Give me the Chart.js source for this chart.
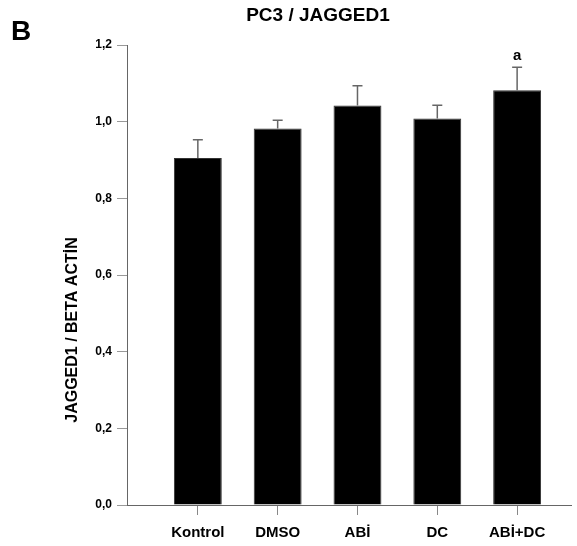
<!DOCTYPE html>
<html>
<head>
<meta charset="utf-8">
<script src="https://cdn.jsdelivr.net/npm/chart.js@4/dist/chart.umd.min.js"></script>
<style>
  html, body { margin: 0; padding: 0; background: #fff; }
  #wrap { width: 577px; height: 546px; position: relative; }
</style>
</head>
<body>
<div id="wrap"><canvas id="myChart"></canvas></div>
<script>
const groups = ["Kontrol", "DMSO", "ABİ", "DC", "ABİ+DC"];
const jaggedValues = [0.905, 0.982, 1.042, 1.008, 1.082];
const jaggedErrors = [0.048, 0.022, 0.052, 0.035, 0.060];
const significance = ["", "", "", "", "a"];
const yTicks = [0, 0.2, 0.4, 0.6, 0.8, 1.0, 1.2];

const ctx = document.getElementById('myChart');
const fontName = "'Liberation Sans', Arial, sans-serif";

// error bars (upper half only) plus the letter above them
const errorBars = {
  id: 'errorBars',
  afterDatasetsDraw(chart) {
    const c = chart.ctx;
    const yScale = chart.scales.y;
    const meta = chart.getDatasetMeta(0);
    c.save();
    meta.data.forEach((bar, i) => {
      const top = yScale.getPixelForValue(jaggedValues[i] + jaggedErrors[i]);
      c.strokeStyle = '#666';
      c.lineWidth = 1.5;
      c.beginPath();
      c.moveTo(bar.x, bar.y);
      c.lineTo(bar.x, top);
      c.moveTo(bar.x - 5, top);
      c.lineTo(bar.x + 5, top);
      c.stroke();
      if (significance[i]) {
        c.fillStyle = '#000';
        c.font = 'bold 15px ' + fontName;
        c.textAlign = 'center';
        c.textBaseline = 'alphabetic';
        c.fillText(significance[i], bar.x, top - 7);
      }
    });
    c.restore();
  }
};

// panel letter, heading and the rotated y title
const labels = {
  id: 'labels',
  afterDraw(chart) {
    const c = chart.ctx;
    c.save();
    c.fillStyle = '#000';
    c.font = 'bold 28px ' + fontName;
    c.textAlign = 'left';
    c.textBaseline = 'alphabetic';
    c.fillText('B', 11, 40);

    c.font = 'bold 19px ' + fontName;
    c.textAlign = 'center';
    c.textBaseline = 'middle';
    c.fillText('PC3 / JAGGED1', 318, 16);

    c.translate(73, 330);
    c.rotate(-Math.PI / 2);
    c.font = 'bold 16px ' + fontName;
    c.fillText('JAGGED1 / BETA ACTİN', 0, 0);
    c.restore();
  }
};

new Chart(ctx, {
  type: 'bar',
  data: {
    datasets: [{
      data: jaggedValues.map((v, i) => ({ x: i, y: v })),
      backgroundColor: '#000',
      borderColor: '#333',
      borderWidth: 1,
      categoryPercentage: 1,
      barPercentage: 0.6
    }]
  },
  plugins: [errorBars, labels],
  options: {
    responsive: true,
    maintainAspectRatio: false,
    animation: false,
    layout: { padding: { top: 45, left: 0, right: 6, bottom: 0 } },
    plugins: {
      legend: { display: false },
      tooltip: { enabled: false },
      title: { display: false }
    },
    scales: {
      x: {
        type: 'linear',
        offset: false,
        min: -0.8875,
        max: 4.675,
        afterBuildTicks: s => { s.ticks = groups.map((g, i) => ({ value: i })); },
        afterFit: s => { s.height = 41; },
        grid: { offset: false, drawOnChartArea: false, drawTicks: true, tickLength: 10, color: '#888' },
        border: { color: '#666', width: 1 },
        ticks: {
          autoSkip: false,
          maxRotation: 0,
          padding: 9,
          color: '#000',
          font: { family: fontName, size: 15, weight: 'bold' },
          callback: v => groups[v]
        }
      },
      y: {
        min: 0,
        max: 1.2,
        afterBuildTicks: s => { s.ticks = yTicks.map(v => ({ value: v })); },
        afterFit: s => { s.width = 127; },
        grid: { drawOnChartArea: false, drawTicks: true, tickLength: 10, color: '#999' },
        border: { color: '#666', width: 1 },
        ticks: {
          padding: 5,
          color: '#000',
          font: { family: fontName, size: 12, weight: 'bold' },
          callback: v => v.toFixed(1).replace('.', ',')
        }
      }
    }
  }
});
</script>
</body>
</html>
